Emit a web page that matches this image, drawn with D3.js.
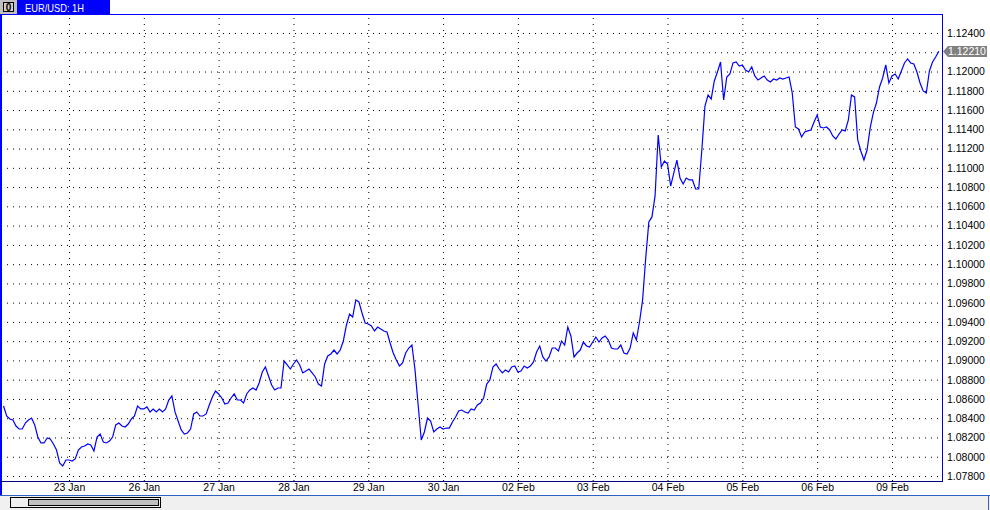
<!DOCTYPE html>
<html><head><meta charset="utf-8">
<script src="https://cdn.jsdelivr.net/npm/d3@7"></script>
<style>
body{margin:0;background:#fff;overflow:hidden}
svg{display:block;font-family:"Liberation Sans",Arial,sans-serif}
</style>
</head><body><svg id="c" width="990" height="510"></svg>
<script>
// ---- data ----
const symbolTitle = "EUR/USD: 1H";
const startHour = -21; // hours relative to the 23 Jan grid line
const prices = [
1.08527,1.08423,1.08392,1.08382,1.08319,1.08288,1.08288,1.08350,1.08382,1.08402,
1.08330,1.08205,1.08143,1.08143,1.08195,1.08184,1.08132,1.08070,1.07935,1.07904,
1.07966,1.07966,1.07956,1.07977,1.08070,1.08101,1.08112,1.08132,1.08122,1.08060,
1.08205,1.08236,1.08153,1.08143,1.08163,1.08205,1.08330,1.08350,1.08319,1.08309,
1.08340,1.08392,1.08423,1.08527,1.08496,1.08496,1.08517,1.08465,1.08496,1.08465,
1.08496,1.08465,1.08496,1.08589,1.08631,1.08465,1.08371,1.08278,1.08236,1.08247,
1.08288,1.08444,1.08465,1.08423,1.08423,1.08444,1.08537,1.08620,1.08683,1.08652,
1.08610,1.08548,1.08558,1.08610,1.08652,1.08589,1.08589,1.08558,1.08652,1.08693,
1.08714,1.08693,1.08766,1.08880,1.08932,1.08838,1.08745,1.08693,1.08714,1.08714,
1.08994,1.08953,1.08911,1.08963,1.09005,1.08953,1.08870,1.08890,1.08911,1.08870,
1.08828,1.08755,1.08735,1.08963,1.09046,1.09067,1.09108,1.09067,1.09108,1.09202,
1.09368,1.09482,1.09451,1.09628,1.09607,1.09493,1.09389,1.09378,1.09358,1.09306,
1.09347,1.09326,1.09306,1.09295,1.09181,1.09077,1.09005,1.08942,1.08973,1.09077,
1.09129,1.09160,1.08901,1.08537,1.08174,1.08257,1.08402,1.08371,1.08257,1.08288,
1.08309,1.08288,1.08298,1.08298,1.08361,1.08413,1.08475,1.08485,1.08465,1.08454,
1.08496,1.08485,1.08537,1.08558,1.08610,1.08755,1.08797,1.08932,1.08963,1.08911,
1.08870,1.08901,1.08880,1.08932,1.08942,1.08880,1.08890,1.08942,1.08921,1.08942,
1.08984,1.09088,1.09150,1.09036,1.08994,1.09036,1.09129,1.09129,1.09098,1.09202,
1.09160,1.09347,1.09254,1.09036,1.09077,1.09108,1.09191,1.09150,1.09140,1.09191,
1.09243,1.09191,1.09233,1.09254,1.09212,1.09129,1.09119,1.09119,1.09160,1.09077,
1.09067,1.09129,1.09285,1.09212,1.09399,1.09628,1.10064,1.10438,1.10490,1.10708,
1.11341,1.11009,1.11071,1.11040,1.10811,1.10946,1.11081,1.10894,1.10832,1.10894,
1.10874,1.10874,1.10780,1.10780,1.11185,1.11642,1.11756,1.11715,1.11902,1.11995,
1.12099,1.11704,1.11943,1.11974,1.12089,1.12099,1.12057,1.12068,1.12016,1.11995,
1.12047,1.11954,1.11912,1.11933,1.11954,1.11912,1.11891,1.11922,1.11912,1.11933,
1.11922,1.11933,1.11943,1.11777,1.11424,1.11403,1.11320,1.11372,1.11383,1.11393,
1.11476,1.11549,1.11424,1.11414,1.11424,1.11393,1.11331,1.11299,1.11351,1.11393,
1.11383,1.11497,1.11756,1.11736,1.11289,1.11175,1.11081,1.11185,1.11414,1.11570,
1.11673,1.11840,1.11933,1.12068,1.11881,1.11954,1.11974,1.11922,1.12006,1.12089,
1.12130,1.12089,1.12078,1.11995,1.11881,1.11798,1.11777,1.12006,1.12099,1.12151,1.12210
];
const dayLabels = ["23 Jan","26 Jan","27 Jan","28 Jan","29 Jan","30 Jan","02 Feb","03 Feb","04 Feb","05 Feb","06 Feb","09 Feb"];
const dayHours = [0,24,48,72,96,120,144,168,192,216,240,264];
const priceTicks = [1.078,1.080,1.082,1.084,1.086,1.088,1.090,1.092,1.094,1.096,1.098,1.100,
  1.102,1.104,1.106,1.108,1.110,1.112,1.114,1.116,1.118,1.120,1.122,1.124];

// ---- layout ----
const svg = d3.select("#c");
const P = {left:1, right:942, top:14, bottom:481};
const x = d3.scaleLinear().domain([0, 264]).range([69, 892]);
const y = d3.scaleLinear().domain([1.078, 1.124]).range([476, 33]);

svg.append("rect").attr("width",990).attr("height",510).attr("fill","#fff");

// grid
const gridStyle = g => {
  g.select(".domain").remove();
  g.selectAll(".tick text").remove();
  g.selectAll(".tick line").attr("stroke","#000").attr("stroke-dasharray","1,5");
};
svg.append("g").attr("transform",`translate(${P.left},0)`)
  .call(d3.axisLeft(y).tickValues(priceTicks).tickSize(-(P.right-P.left)))
  .call(gridStyle);
svg.append("g").attr("transform",`translate(0,${P.bottom})`)
  .call(d3.axisBottom(x).tickValues(dayHours).tickSize(-(P.bottom-P.top-1)))
  .call(gridStyle);

// price line
svg.append("clipPath").attr("id","clip").append("rect")
  .attr("x",P.left+1).attr("y",P.top+1).attr("width",P.right-P.left-1).attr("height",P.bottom-P.top-1);
const line = d3.line().x((d,i)=>x(startHour+i)).y(d=>y(d));
svg.append("path").datum(prices).attr("clip-path","url(#clip)")
  .attr("d",line).attr("fill","none").attr("stroke","#0000ff").attr("stroke-width",1.2);

// frame
svg.append("rect").attr("x",0).attr("y",P.top).attr("width",2).attr("height",495-P.top).attr("fill","#0000ff");
svg.append("line").attr("x1",0).attr("x2",P.right+0.5).attr("y1",P.top+0.5).attr("y2",P.top+0.5).attr("stroke","#0000ff");
svg.append("line").attr("x1",P.right+0.5).attr("x2",P.right+0.5).attr("y1",P.top).attr("y2",P.bottom+1).attr("stroke","#0000d0");
svg.append("line").attr("x1",0).attr("x2",P.right+1).attr("y1",P.bottom+0.5).attr("y2",P.bottom+0.5).attr("stroke","#000080");

// y labels
const yAx = svg.append("g").attr("transform",`translate(${P.right},0)`)
  .call(d3.axisRight(y).tickValues(priceTicks).tickSize(0).tickPadding(5).tickFormat(d3.format(".5f")));
yAx.select(".domain").remove();
yAx.selectAll("text").attr("font-size","10.5px").attr("fill","#000").attr("font-family","Liberation Sans, Arial, sans-serif");

// x labels
const xAx = svg.append("g").attr("transform",`translate(0,${P.bottom})`)
  .call(d3.axisBottom(x).tickValues(dayHours).tickSize(0).tickPadding(3).tickFormat((d,i)=>dayLabels[i]));
xAx.select(".domain").remove();
xAx.selectAll("text").attr("font-size","10.5px").attr("fill","#000").attr("font-family","Liberation Sans, Arial, sans-serif");

// last price marker
const lastV = prices[prices.length-1];
const ly = Math.round(y(lastV))+0.5;
svg.append("path")
  .attr("d",`M${P.right+1},${ly} L${P.right+6},${ly-5.5} L987,${ly-5.5} L987,${ly+5.5} L${P.right+6},${ly+5.5} Z`)
  .attr("fill","#808080");
svg.append("text").attr("x",P.right+6).attr("y",ly).attr("dy","0.35em")
  .attr("font-size","10.5px").attr("fill","#fff").text(d3.format(".5f")(lastV));

// header
svg.append("rect").attr("x",0).attr("y",0).attr("width",17).attr("height",14).attr("fill","#c0c0c0");
svg.append("rect").attr("x",3.5).attr("y",2.5).attr("width",10).attr("height",9).attr("fill","#d4d0c8").attr("stroke","#000");
svg.append("text").attr("x",8.5).attr("y",10.5).attr("text-anchor","middle").attr("font-size","10px").attr("font-weight","bold").attr("fill","#000").text("0");
svg.append("rect").attr("x",17).attr("y",0).attr("width",93).attr("height",14).attr("fill","#0000ff");
svg.append("text").attr("x",25).attr("y",11.5).attr("font-size","11px").attr("fill","#fff")
  .attr("textLength",59).attr("lengthAdjust","spacingAndGlyphs").text(symbolTitle);

// bottom scroll panel
svg.append("rect").attr("x",0).attr("y",495).attr("width",990).attr("height",15).attr("fill","#f0f0f0");
svg.append("line").attr("x1",0).attr("x2",990).attr("y1",495.5).attr("y2",495.5).attr("stroke","#3060c0");
svg.append("line").attr("x1",988.5).attr("x2",988.5).attr("y1",495).attr("y2",510).attr("stroke","#3060c0");
svg.append("rect").attr("x",10.5).attr("y",497.5).attr("width",150).attr("height",10).attr("fill","#f0f0f0").attr("stroke","#000");
svg.append("rect").attr("x",28.5).attr("y",499.5).attr("width",130).attr("height",6).attr("fill","#c0c0c0").attr("stroke","#000");
</script>
</body></html>
